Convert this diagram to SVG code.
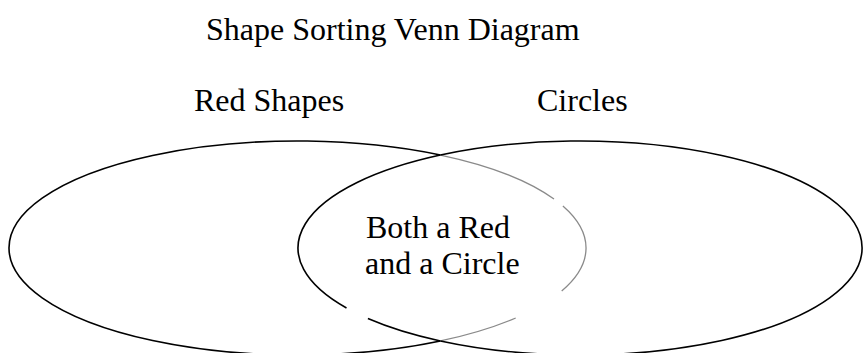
<svg xmlns="http://www.w3.org/2000/svg" width="866" height="353" viewBox="0 0 866 353">
<style>
text { font-family: "Liberation Serif", "Times New Roman", serif; font-size: 32px; fill: #000; }
.blk { fill: none; stroke: #000; stroke-width: 1.6; }
.gry { fill: none; stroke: #8a8a8a; stroke-width: 1.3; }
</style>
<rect width="866" height="353" fill="#fff"/>
<g id="title"><text x="206" y="40">Shape Sorting Venn Diagram</text></g>
<g id="red-shapes">
<text x="194" y="111">Red Shapes</text>
<path class="blk" d="M440.4,155.05 A288.5,107 0 1,0 440.4,340.95"/>
<path class="gry" d="M440.4,155.05 A288.5,107 0 0,1 554,199"/>
<path class="gry" d="M562.9,206 A288.5,107 0 0,1 561.7,291"/>
<path class="gry" d="M515.7,318 A288.5,107 0 0,1 440.4,340.95"/>
</g>
<g id="circles">
<text x="537" y="111">Circles</text>
<path class="blk" d="M440.4,155.05 A282,107 0 1,1 440.4,340.95"/>
<path class="blk" d="M440.4,155.05 A282,107 0 0,0 346.5,308"/>
<path class="blk" d="M367.9,318.5 A282,107 0 0,0 440.4,340.95"/>
</g>
<g id="both">
<text x="366" y="238">Both a Red</text>
<text x="365" y="274">and a Circle</text>
</g>
<g id="connectors"></g>
</svg>
